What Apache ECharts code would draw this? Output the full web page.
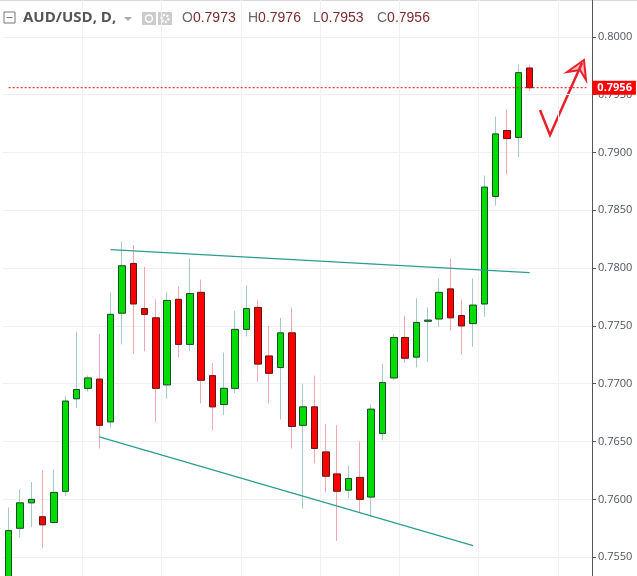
<!DOCTYPE html>
<html>
<head>
<meta charset="utf-8">
<script src="https://cdn.jsdelivr.net/npm/echarts@6/dist/echarts.min.js"></script>
<style>html,body{margin:0;padding:0;background:#fff;overflow:hidden;width:637px;height:576px;position:relative}#main{position:absolute;left:0;top:-21px;width:637px;height:636px}</style>
</head>
<body>
<div id="main"></div>
<script>
var myChart = echarts.init(document.getElementById('main'));

// daily OHLC
var opens  = [0.7526,0.7575,0.7597,0.7585,0.7580,0.7607,0.7687,0.7696,0.7704,0.7667,0.7761,0.7804,0.7765,0.7757,0.7699,0.7773,0.7734,0.7779,0.7707,0.7682,0.7696,0.7747,0.7766,0.7724,0.7714,0.7744,0.7664,0.7680,0.7641,0.7622,0.7608,0.7619,0.7602,0.7657,0.7705,0.7740,0.7723,0.7754,0.7756,0.7782,0.7759,0.7752,0.7769,0.7862,0.7919,0.7913,0.7973];
var closes = [0.7573,0.7597,0.7600,0.7578,0.7606,0.7685,0.7695,0.7705,0.7664,0.7760,0.7802,0.7769,0.7760,0.7696,0.7772,0.7734,0.7778,0.7703,0.7680,0.7696,0.7747,0.7765,0.7717,0.7709,0.7744,0.7663,0.7680,0.7644,0.7620,0.7607,0.7618,0.7600,0.7678,0.7701,0.7740,0.7722,0.7753,0.7755,0.7779,0.7757,0.7750,0.7768,0.7870,0.7916,0.7912,0.7969,0.7956];
var highs  = [0.7593,0.7609,0.7615,0.7625,0.7626,0.7689,0.7745,0.7707,0.7743,0.7779,0.7823,0.7820,0.7801,0.7773,0.7779,0.7784,0.7808,0.7790,0.7718,0.7727,0.7763,0.7785,0.7772,0.7750,0.7757,0.7766,0.7700,0.7707,0.7665,0.7664,0.7629,0.7650,0.7682,0.7717,0.7743,0.7759,0.7774,0.7766,0.7791,0.7808,0.7773,0.7791,0.7880,0.7931,0.7937,0.7976,0.7976];
var lows   = [0.7520,0.7567,0.7576,0.7558,0.7579,0.7603,0.7679,0.7693,0.7644,0.7662,0.7734,0.7726,0.7728,0.7667,0.7687,0.7723,0.7728,0.7683,0.7660,0.7673,0.7692,0.7741,0.7702,0.7683,0.7669,0.7644,0.7592,0.7631,0.7606,0.7564,0.7601,0.7589,0.7585,0.7651,0.7703,0.7718,0.7714,0.7719,0.7749,0.7746,0.7725,0.7732,0.7758,0.7854,0.7881,0.7896,0.7953];
var emptySlots = 5;
var lastPrice = 0.7956;
var upperTrend = [[9, 0.7816], [46, 0.7796]];
var lowerTrend = [[8, 0.7654], [41, 0.7560]];
var ohlcLabels = [['O', '0.7973'], ['H', '0.7976'], ['L', '0.7953'], ['C', '0.7956']];

var categories = [];
for (var i = 0; i < opens.length + emptySlots; i++) categories.push(String(i));

var full = [], bodies = [], priceLine = [];
for (var i = 0; i < opens.length; i++) {
    full.push([opens[i], closes[i], lows[i], highs[i]]);
    bodies.push([opens[i], closes[i], Math.min(opens[i], closes[i]), Math.max(opens[i], closes[i])]);
}
for (var i = 0; i < categories.length; i++) priceLine.push(lastPrice);

function trendLine(t) {
    return [{ coord: [String(t[0][0]), t[0][1]] }, { coord: [String(t[1][0]), t[1][1]] }];
}

var dy = 21; // page is shifted up by this much
var headerTexts = [];
var hx = [182, 248, 313, 377];
ohlcLabels.forEach(function (p, k) {
    headerTexts.push({
        type: 'text', x: hx[k], y: 11 + dy,
        style: {
            text: '{k|' + p[0] + '}{v|' + p[1] + '}', fontFamily: 'Open Sans',
            rich: { k: { fontSize: 14, fill: '#6a6a6a' }, v: { fontSize: 14, fill: '#7a2a2a' } }
        }
    });
});

var option = {
    animation: false,
    grid: { left: 3, right: 45, top: 0, bottom: 0, outerBoundsMode: 'none', containLabel: false },
    xAxis: {
        type: 'category',
        data: categories,
        boundaryGap: true,
        axisLine: { show: false },
        axisTick: { show: false },
        axisLabel: { show: false },
        splitLine: {
            show: true,
            interval: function (idx) { return idx % 7 === 0 && idx > 0; },
            lineStyle: { color: '#f0f0f0' }
        }
    },
    yAxis: {
        type: 'value',
        position: 'right',
        min: 0.75,
        max: 0.805,
        interval: 0.005,
        axisLine: { show: true, lineStyle: { color: '#555' } },
        axisTick: { show: true, length: 4, lineStyle: { color: '#555' } },
        axisLabel: {
            color: '#4c525e', fontSize: 11, fontFamily: 'Open Sans', margin: 6, hideOverlap: false,
            formatter: function (v) { return v.toFixed(4); }
        },
        splitLine: { lineStyle: { color: '#f0f0f0' } }
    },
    series: [
        {
            type: 'candlestick',
            data: full,
            barWidth: 7,
            itemStyle: { color: 'transparent', color0: 'transparent', borderColor: '#a3c9cc', borderColor0: '#f2a7b0', borderWidth: 1 },
            markLine: {
                symbol: 'none',
                silent: true,
                lineStyle: { color: '#2a9d8f', type: 'solid', width: 1.2 },
                label: { show: false },
                data: [trendLine(upperTrend), trendLine(lowerTrend)]
            }
        },
        {
            type: 'candlestick',
            data: bodies,
            barWidth: 7,
            itemStyle: { color: '#00dd00', color0: '#ff0000', borderColor: '#1f4a2c', borderColor0: '#5a1a1a', borderWidth: 1 }
        },
        {
            type: 'line',
            data: priceLine,
            symbol: 'none',
            silent: true,
            z: 5,
            lineStyle: { color: '#ff0000', type: [2, 2], width: 1 },
            endLabel: {
                show: true, distance: 6,
                formatter: lastPrice.toFixed(4),
                backgroundColor: '#ff0000', color: '#fff', fontWeight: 'bold',
                fontSize: 11, fontFamily: 'Open Sans', padding: [2, 4, 1, 5]
            }
        }
    ],
    graphic: [
        { type: 'rect', shape: { x: 0, y: dy, width: 637, height: 1 }, style: { fill: '#d8d8d8' } },
        { type: 'rect', shape: { x: 4, y: 12 + dy, width: 11, height: 11 }, style: { fill: '#fff', stroke: '#777', lineWidth: 1 } },
        { type: 'rect', shape: { x: 6.5, y: 17 + dy, width: 6, height: 1 }, style: { fill: '#777' } },
        { type: 'text', x: 23, y: 10 + dy, style: { text: 'AUD/USD, D,', fontFamily: 'Open Sans', fontSize: 15, fontWeight: 'bold', fill: '#555' } },
        { type: 'polygon', shape: { points: [[124, 17 + dy], [132, 17 + dy], [128, 21 + dy]] }, style: { fill: '#aaa' } },
        { type: 'rect', shape: { x: 142, y: 12 + dy, width: 14, height: 13 }, style: { fill: '#ccc' } },
        { type: 'rect', shape: { x: 158, y: 12 + dy, width: 14, height: 13 }, style: { fill: '#ccc' } },
        { type: 'circle', shape: { cx: 149, cy: 18.5 + dy, r: 3.5 }, style: { fill: 'none', stroke: '#fff', lineWidth: 1.5 } },
        { type: 'circle', shape: { cx: 165, cy: 18.5 + dy, r: 3.5 }, style: { fill: 'none', stroke: '#fff', lineWidth: 2.5, lineDash: [2, 1.5] } },
        {
            type: 'polyline',
            shape: { points: [[540, 110 + dy], [550, 135 + dy], [582, 63 + dy]] },
            style: { stroke: '#e8202a', lineWidth: 2.5, fill: null }
        },
        {
            type: 'polygon',
            shape: { points: [[567, 72 + dy], [584, 60 + dy], [586, 80 + dy], [580, 70 + dy]] },
            style: { stroke: '#e8202a', lineWidth: 2, fill: 'rgba(232,32,42,0.3)' }
        }
    ].concat(headerTexts)
};

myChart.setOption(option);
</script>
</body>
</html>
